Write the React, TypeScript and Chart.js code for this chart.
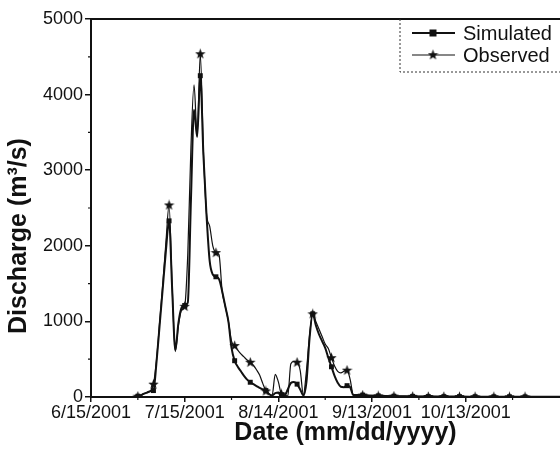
import { useEffect, useRef } from 'react';
import { Chart, registerables } from 'chart.js';

Chart.register(...registerables);

// Days since 6/15/2001
const days = [
  14, 15, 16, 17, 18, 19, 20, 21, 22, 23, 24, 25, 26, 27, 28, 29, 30, 31, 32, 33,
  34, 35, 36, 37, 38, 39, 40, 41, 42, 43, 44, 45, 46, 47, 48, 49, 50, 51, 52, 53,
  54, 55, 56, 57, 58, 59, 60, 61, 62, 63, 64, 65, 66, 67, 68, 69, 70, 71, 72, 73,
  74, 75, 76, 77, 78, 79, 80, 81, 82, 83, 84, 85, 86, 87, 88, 89,
  92, 97, 103, 108, 113, 118, 123, 129, 134, 139, 163,
];

const simulated = [
  0, 10, 25, 45, 60, 75, 85, 470, 960, 1450, 1940, 2330, 1420, 620, 980, 1180, 1210, 1250, 2600, 3800,
  3440, 4250, 3200, 2400, 1800, 1620, 1590, 1560, 1400, 1200, 1000, 650, 480, 400, 340, 280, 230, 195, 170, 145,
  120, 100, 85, 40, 20, 50, 60, 30, 20, 100, 185, 200, 170, 100, 20, 200, 780, 1100, 950, 830,
  740, 650, 520, 400, 280, 190, 135, 130, 150, 130, 25, 25, 25, 25, 22, 20,
  15, 10, 8, 6, 5, 5, 4, 3, 3, 2, 2,
];

const observed = [
  0, 10, 25, 45, 60, 80, 170, 500, 1000, 1500, 2050, 2540, 1450, 600, 950, 1150, 1200, 1900, 3300, 4130,
  3450, 4540, 3250, 2420, 2260, 2000, 1910, 1880, 1400, 1200, 1000, 740, 680, 620, 570, 530, 490, 460, 420, 360,
  290, 180, 80, 40, 20, 300, 200, 40, 30, 10, 440, 470, 460, 350, 30, 350, 820, 1100, 1000, 900,
  800, 700, 640, 520, 410, 340, 320, 340, 355, 230, 30, 30, 28, 25, 22, 20,
  15, 12, 9, 7, 6, 5, 4, 4, 3, 3, 3,
];

const tickLabels = ['6/15/2001', '7/15/2001', '8/14/2001', '9/13/2001', '10/13/2001'];

const yTitle = 'Discharge (m³/s)';
const xTitle = 'Date (mm/dd/yyyy)';

// days on which a marker symbol is drawn (style)
const MARKER_DAYS = [15, 20, 25, 30, 35, 40, 46, 51, 56, 61, 66, 71, 77, 82, 87, 92, 97, 103, 108, 113, 118, 123, 129, 134, 139];

const INK = '#111';
const FONT = "'Liberation Sans', Arial, Helvetica, sans-serif";

function makeStar(): HTMLCanvasElement {
  const c = document.createElement('canvas');
  c.width = 11;
  c.height = 11;
  const g = c.getContext('2d')!;
  g.fillStyle = INK;
  g.beginPath();
  for (let i = 0; i < 10; i++) {
    const r = i % 2 === 0 ? 5.5 : 2.3;
    const a = -Math.PI / 2 + (i * Math.PI) / 5;
    const px = 5.5 + r * Math.cos(a);
    const py = 5.8 + r * Math.sin(a);
    if (i === 0) g.moveTo(px, py);
    else g.lineTo(px, py);
  }
  g.closePath();
  g.fill();
  return c;
}

export default function App() {
  const ref = useRef<HTMLCanvasElement>(null);

  useEffect(() => {
    const canvas = ref.current!;
    const star = makeStar();

    const markerRadius = (r: number) => (ctx: any) =>
      MARKER_DAYS.includes(days[ctx.dataIndex]) ? r : 0;

    const framePlugin = {
      id: 'frameLegend',
      afterDraw(chart: any) {
        const { ctx, chartArea } = chart;
        const { left, right, top, bottom } = chartArea;
        const x = chart.scales.x;
        const y = chart.scales.y;
        ctx.save();
        ctx.strokeStyle = INK;
        ctx.lineWidth = 2;
        ctx.beginPath();
        ctx.moveTo(left, top);
        ctx.lineTo(right, top);
        ctx.lineTo(right, bottom);
        ctx.stroke();

        // minor ticks
        ctx.lineWidth = 1.2;
        ctx.beginPath();
        y.ticks.forEach((t: any) => {
          if (t.value % 1000 !== 0) {
            const py = y.getPixelForValue(t.value);
            ctx.moveTo(left, py);
            ctx.lineTo(left - 3, py);
          }
        });
        x.ticks.forEach((t: any) => {
          if (t.value % 30 !== 0) {
            const px = x.getPixelForValue(t.value);
            ctx.moveTo(px, bottom);
            ctx.lineTo(px, bottom + 3);
          }
        });
        ctx.stroke();

        // y-axis title (drawn to sit where the original has it)
        ctx.save();
        ctx.translate(19, 236);
        ctx.rotate(-Math.PI / 2);
        ctx.font = `bold 25px ${FONT}`;
        ctx.fillStyle = INK;
        ctx.textAlign = 'center';
        ctx.textBaseline = 'middle';
        ctx.fillText(yTitle, 0, 0);
        ctx.restore();

        // legend box (dashed)
        const bx = 400;
        const by = top;
        const bb = 72;
        ctx.lineWidth = 1;
        ctx.setLineDash([2, 2]);
        ctx.strokeStyle = '#333';
        ctx.beginPath();
        ctx.moveTo(bx, by);
        ctx.lineTo(bx, bb);
        ctx.lineTo(chart.width, bb);
        ctx.stroke();
        ctx.setLineDash([]);

        const rows = [
          { y: 33, w: 2, kind: 'rect' },
          { y: 55, w: 1.2, kind: 'star' },
        ];
        ctx.font = `20px ${FONT}`;
        ctx.fillStyle = INK;
        ctx.textBaseline = 'middle';
        ctx.textAlign = 'left';
        rows.forEach((r, i) => {
          ctx.strokeStyle = INK;
          ctx.lineWidth = r.w;
          ctx.beginPath();
          ctx.moveTo(412, r.y);
          ctx.lineTo(455, r.y);
          ctx.stroke();
          if (r.kind === 'rect') {
            ctx.fillRect(433 - 3.5, r.y - 3.5, 7, 7);
          } else {
            ctx.drawImage(star, 433 - 5.5, r.y - 5.8);
          }
          ctx.fillText(chart.data.datasets[i].label, 463, r.y + 1);
        });
        ctx.restore();
      },
    };

    const chart = new Chart(canvas, {
      type: 'line',
      data: {
        labels: days,
        datasets: [
          {
            label: 'Simulated',
            data: days.map((d, i) => ({ x: d, y: simulated[i] })),
            borderColor: INK,
            backgroundColor: INK,
            borderWidth: 2,
            pointStyle: 'rect',
            pointRadius: markerRadius(3.5),
            pointBorderWidth: 0,
            cubicInterpolationMode: 'monotone',
            tension: 0.3,
          },
          {
            label: 'Observed',
            data: days.map((d, i) => ({ x: d, y: observed[i] })),
            borderColor: INK,
            backgroundColor: INK,
            borderWidth: 1.2,
            pointStyle: star,
            pointRadius: markerRadius(5),
            pointBorderWidth: 0,
            cubicInterpolationMode: 'monotone',
            tension: 0.3,
          },
        ],
      },
      options: {
        responsive: false,
        animation: false,
        events: [],
        layout: { padding: { top: 19, right: 20, bottom: 0, left: 0 } },
        plugins: {
          legend: { display: false },
          tooltip: { enabled: false },
        },
        scales: {
          x: {
            type: 'linear',
            min: 0,
            max: 163,
            afterBuildTicks: (s: any) => {
              s.ticks = s.ticks.filter((t: any) => t.value % 15 === 0);
            },
            afterFit: (s: any) => {
              s.height = 68;
            },
            ticks: {
              stepSize: 15,
              autoSkip: false,
              maxRotation: 0,
              padding: 0,
              color: INK,
              font: { size: 18, family: FONT },
              callback: (v: any) => {
                const n = Number(v);
                return n % 30 === 0 && tickLabels[n / 30] ? tickLabels[n / 30] : '';
              },
            },
            grid: {
              drawOnChartArea: false,
              drawTicks: true,
              tickLength: 5,
              lineWidth: 1.5,
              color: (c: any) => (c.tick && c.tick.value % 30 === 0 ? INK : 'rgba(0,0,0,0)'),
            },
            border: { display: true, color: INK, width: 2 },
            title: {
              display: true,
              text: xTitle,
              color: INK,
              font: { size: 25, weight: 'bold', family: FONT },
              padding: { top: 0, bottom: 17 },
            },
          },
          y: {
            type: 'linear',
            min: 0,
            max: 5000,
            afterFit: (s: any) => {
              s.width = 91;
            },
            ticks: {
              stepSize: 500,
              padding: 2,
              color: INK,
              font: { size: 18, family: FONT },
              callback: (v: any) => (Number(v) % 1000 === 0 ? String(v) : ''),
            },
            grid: {
              drawOnChartArea: false,
              drawTicks: true,
              tickLength: 6,
              lineWidth: 1.5,
              color: (c: any) => (c.tick && c.tick.value % 1000 === 0 ? INK : 'rgba(0,0,0,0)'),
            },
            border: { display: true, color: INK, width: 2 },
            title: { display: false },
          },
        },
      },
      plugins: [framePlugin],
    } as any);

    return () => chart.destroy();
  }, []);

  return (
    <div
      style={{
        position: 'fixed',
        left: 0,
        top: 0,
        width: 560,
        height: 465,
        overflow: 'hidden',
        background: '#fff',
      }}
    >
      <canvas ref={ref} width={620} height={465} style={{ width: 620, height: 465, display: 'block' }} />
    </div>
  );
}
